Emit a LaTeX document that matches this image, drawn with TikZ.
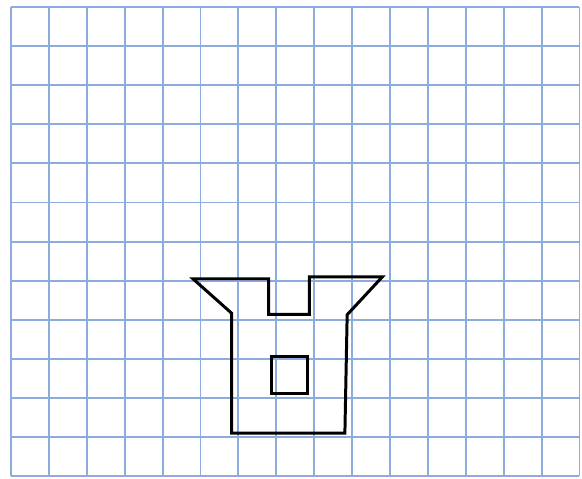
\documentclass[tikz,border=0pt]{standalone}
\usepackage{xcolor}
\usepackage{tikz}
\definecolor{gridblue}{HTML}{8EABDD}

\begin{document}
\begin{tikzpicture}[x=0.758cm, y=-0.782cm]
\useasboundingbox (-0.29,-0.179) rectangle (15.066,12.046);
% grid
\foreach \i in {0,...,15}
  \draw [gridblue, line width=1.1pt] (\i,0) -- (\i,12);
\foreach \j in {0,...,12}
  \draw [gridblue, line width=1.1pt] (0,\j) -- (15,\j);
% outline
\draw [black, line width=1.7pt, line join=miter]
  (4.8,6.95) -- (6.8,6.95) -- (6.8,7.86) -- (7.87,7.86) -- (7.87,6.9)
  -- (9.8,6.9) -- (8.87,7.87) -- (8.81,10.9) -- (5.82,10.9) -- (5.82,7.83) -- cycle;
% window
\draw [black, line width=1.7pt] (6.87,8.95) rectangle (7.83,9.88);
\end{tikzpicture}
\end{document}
